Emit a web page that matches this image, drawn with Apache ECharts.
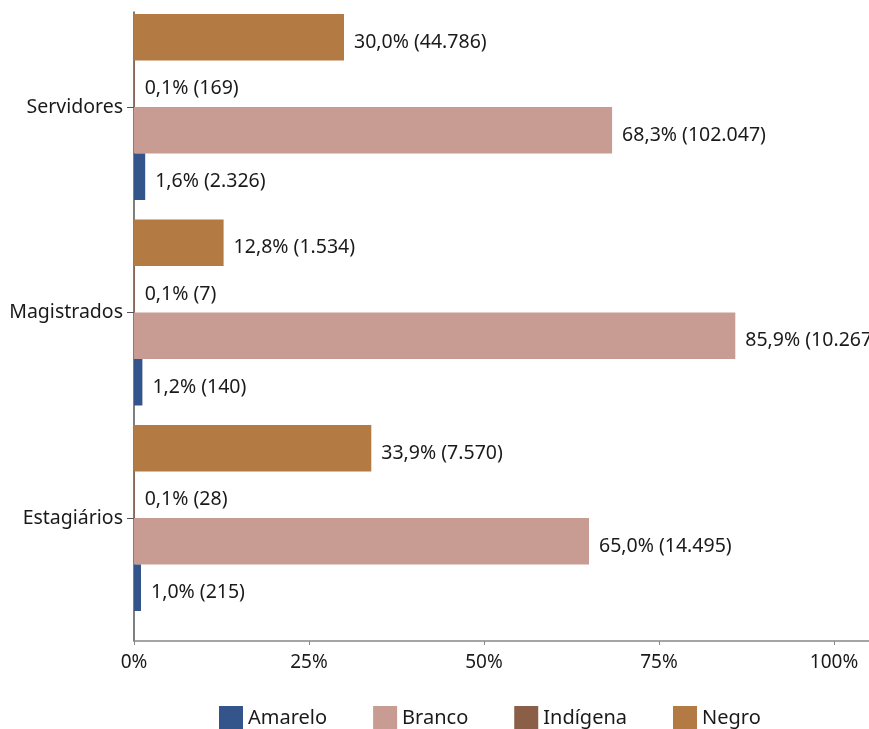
<!DOCTYPE html>
<html>
<head>
<meta charset="utf-8">
<script src="https://cdn.jsdelivr.net/npm/echarts@6/dist/echarts.min.js"></script>
<style>html,body{margin:0;padding:0;background:#fff}#c{width:869px;height:729px}</style>
</head>
<body>
<div id="c"></div>
<script>
// Categories, bottom to top
var categories = ['Estagiários', 'Magistrados', 'Servidores'];
var seriesNames = ['Amarelo', 'Branco', 'Indígena', 'Negro'];
var amareloPct = [1.0, 1.2, 1.6];
var amareloN = [215, 140, 2326];
var brancoPct = [65.0, 85.9, 68.3];
var brancoN = [14495, 10267, 102047];
var indigenaPct = [0.1, 0.1, 0.1];
var indigenaN = [28, 7, 169];
var negroPct = [33.9, 12.8, 30.0];
var negroN = [7570, 1534, 44786];
var xTicks = [0, 25, 50, 75, 100];
var colors = ['#34558B', '#C89B93', '#8B5E48', '#B47A44'];

var FONT = 'Noto Sans';
function fmtN(n) { return String(n).replace(/\B(?=(\d{3})+(?!\d))/g, '.'); }
function fmtP(p) { return p.toFixed(1).replace('.', ',') + '%'; }

var pctArr = [amareloPct, brancoPct, indigenaPct, negroPct];
var nArr = [amareloN, brancoN, indigenaN, negroN];

var chart = echarts.init(document.getElementById('c'), null, {renderer: 'canvas'});
var series = [];
// reverse drawing order so Amarelo sits at the bottom of each group
for (var k = seriesNames.length - 1; k >= 0; k--) {
  (function (i) {
    series.push({
      name: seriesNames[i],
      type: 'bar',
      xAxisIndex: 0,
      yAxisIndex: 0,
      data: pctArr[i],
      barGap: '0%',
      barCategoryGap: '9.5%',
      itemStyle: {color: colors[i]},
      label: {
        show: true,
        position: 'right',
        distance: 10,
        offset: [0, 5],
        color: '#1a1a1a',
        fontFamily: FONT,
        fontSize: 19.5,
        formatter: function (p) { return fmtP(p.value) + ' (' + fmtN(nArr[i][p.dataIndex]) + ')'; }
      }
    });
  })(k);
}

chart.setOption({
  animation: false,
  textStyle: {fontFamily: FONT},
  grid: [
    {left: 134, top: 4.25, height: 616.5, width: 735},
    {left: 134, top: 12, bottom: 88, width: 735}
  ],
  legend: {
    data: seriesNames,
    top: 706,
    left: 219,
    padding: 0,
    icon: 'rect',
    itemWidth: 24,
    itemHeight: 24,
    itemGap: 46,
    textStyle: {fontFamily: FONT, fontSize: 20, color: '#1a1a1a'}
  },
  xAxis: [
    {gridIndex: 0, type: 'value', min: 0, max: 105, show: false},
    {
      gridIndex: 1, type: 'value', min: 0, max: 105,
      axisLine: {show: true, lineStyle: {color: '#888', width: 1.5}},
      axisTick: {show: true, length: 4, customValues: xTicks, lineStyle: {color: '#888'}},
      splitLine: {show: false},
      axisLabel: {
        customValues: xTicks, margin: 12, color: '#1a1a1a', fontFamily: FONT, fontSize: 19,
        formatter: function (v) { return v + '%'; }
      }
    }
  ],
  yAxis: [
    {
      gridIndex: 0, type: 'category', data: categories,
      axisLine: {show: false},
      axisTick: {show: true, alignWithLabel: true, length: 7, lineStyle: {color: '#555'}},
      axisLabel: {margin: 11, color: '#1a1a1a', fontFamily: FONT, fontSize: 19.5}
    },
    {
      gridIndex: 1, type: 'value', min: 0, max: 1,
      axisLine: {show: true, lineStyle: {color: '#555', width: 1.5}},
      axisTick: {show: false}, axisLabel: {show: false}, splitLine: {show: false}
    }
  ],
  series: series
});
</script>
</body>
</html>
